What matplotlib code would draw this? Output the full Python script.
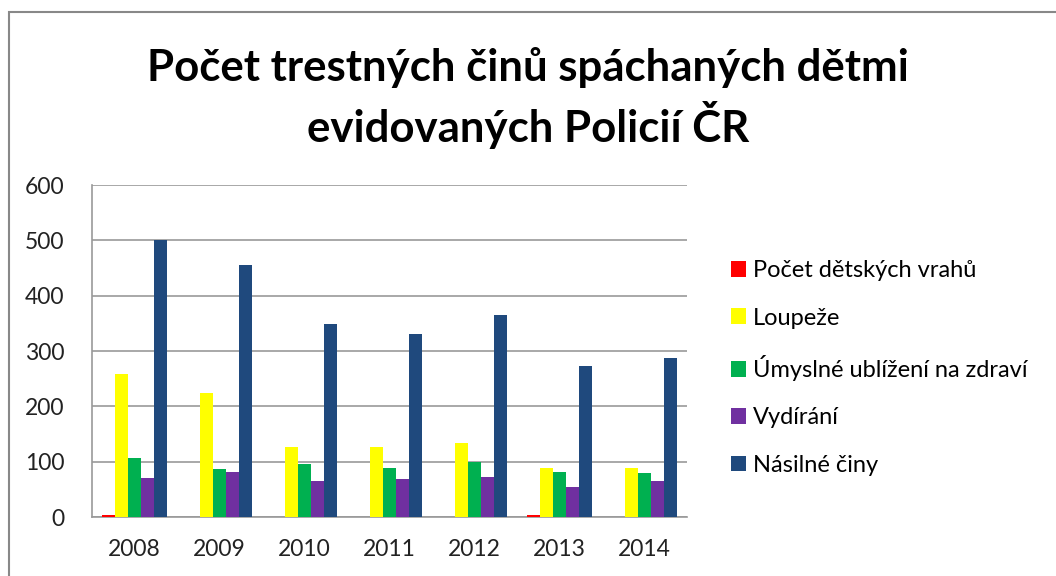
import numpy as np
import matplotlib
matplotlib.use("Agg")
import matplotlib.pyplot as plt
from matplotlib.patches import Rectangle

plt.rcParams["font.family"] = ["Lato", "DejaVu Sans"]

years = ["2008", "2009", "2010", "2011", "2012", "2013", "2014"]
series_names = [
    "Počet dětských vrahů",
    "Loupeže",
    "Úmyslné ublížení na zdraví",
    "Vydírání",
    "Násilné činy",
]
vrazi = [3, 0, 0, 0, 0, 3, 0]
loupeze = [258, 224, 127, 127, 134, 88, 88]
ublizeni = [107, 86, 95, 88, 99, 81, 79]
vydirani = [70, 81, 65, 68, 72, 54, 65]
nasilne = [500, 455, 348, 330, 365, 273, 287]
colors = ["#ff0000", "#ffff00", "#00b050", "#7030a0", "#1f497d"]

values = [vrazi, loupeze, ublizeni, vydirani, nasilne]

fig = plt.figure(figsize=(10.56, 5.76), dpi=100)
ax = fig.add_axes([92 / 1056, 1 - 517 / 576, (687 - 92) / 1056, (517 - 185) / 576])

x = np.arange(len(years))
w = 0.153
for i, (name, vals, c) in enumerate(zip(series_names, values, colors)):
    ax.bar(x + (i - 2) * w, vals, width=w, color=c, label=name,
           edgecolor="none", zorder=3)

ax.set_xlim(-0.5, len(years) - 0.5)
ax.set_ylim(0, 600)
ax.set_yticks(range(0, 601, 100))
ax.set_xticks(x)
ax.set_xticklabels(years)
ax.tick_params(axis="both", length=0, labelsize=16.5, colors="#222222")
ax.tick_params(axis="y", pad=20)
ax.tick_params(axis="x", pad=16)
ax.grid(axis="y", color="#999999", linewidth=1.2, zorder=0)
for s in ["top", "right"]:
    ax.spines[s].set_visible(False)
for s in ["left", "bottom"]:
    ax.spines[s].set_color("#999999")
    ax.spines[s].set_linewidth(1.2)

fig.text(0.5, 1 - 68 / 576, "Počet trestných činů spáchaných dětmi",
         ha="center", va="center", fontsize=31.5, fontweight="bold")
fig.text(0.5, 1 - 125 / 576, "evidovaných Policií ČR",
         ha="center", va="center", fontsize=31.5, fontweight="bold")

fig.legend(loc="center left", bbox_to_anchor=(719 / 1056, 1 - 368 / 576),
           frameon=False, fontsize=17, handlelength=0.65, handleheight=0.65,
           handletextpad=0.3, labelspacing=1.12, borderpad=0)

fig.patches.append(Rectangle((9 / 1056, -0.1), 1.2, 1 - 12 / 576 + 0.1,
                             transform=fig.transFigure, fill=False,
                             edgecolor="#888888", linewidth=1.5))

fig.savefig("out.png", dpi=100)
